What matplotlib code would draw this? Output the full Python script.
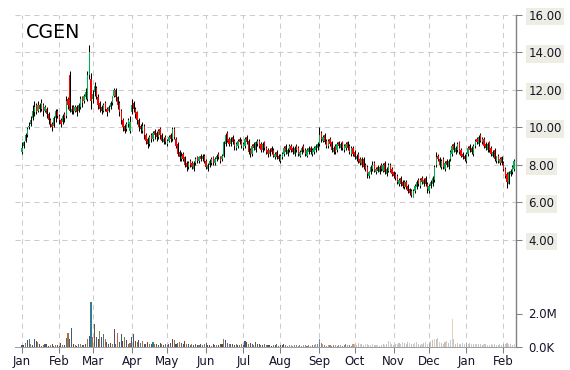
import matplotlib
matplotlib.use("Agg")
import matplotlib.pyplot as plt
import numpy as np

# daily OHLC, Jan .. early Feb of the next year (one value per trading day)
opens = [
    8.7, 9.0, 9.3, 9.6, 10.0, 10.2, 10.5, 10.8, 11.2, 10.9,
    11.2, 11.0, 11.2, 10.9, 11.0, 10.7, 10.4, 10.2, 10.1, 10.5,
    10.9, 10.6, 10.4, 10.3, 10.7, 10.6, 11.5, 12.8, 10.8, 11.1,
    10.9, 11.1, 10.9, 11.1, 11.6, 11.4, 11.6, 11.5, 12.8, 12.6,
    11.5, 11.9, 12.1, 11.6, 11.3, 11.1, 10.9, 11.3, 11.0, 10.9,
    11.1, 11.3, 11.7, 12.0, 11.6, 11.3, 10.9, 10.4, 10.1, 9.9,
    10.2, 9.8, 10.8, 11.3, 11.0, 10.8, 10.4, 10.1, 9.8, 10.1,
    9.6, 9.4, 9.1, 9.6, 9.4, 9.8, 9.7, 9.5, 9.9, 9.6,
    9.2, 9.5, 9.1, 9.3, 9.6, 9.4, 9.9, 9.4, 9.1, 8.7,
    8.3, 8.6, 8.4, 8.1, 7.9, 8.2, 8.1, 7.8, 8.1, 8.4,
    8.2, 8.5, 8.3, 8.5, 8.2, 7.8, 8.0, 8.1, 8.4, 8.1,
    8.3, 8.6, 8.4, 8.3, 8.5, 9.1, 9.7, 9.4, 9.1, 9.5,
    9.3, 8.9, 9.0, 9.4, 9.3, 8.9, 9.0, 9.5, 9.3, 8.8,
    8.6, 9.1, 8.8, 9.1, 9.3, 9.1, 8.8, 9.2, 8.9, 8.8,
    8.6, 8.9, 8.8, 8.4, 8.7, 8.5, 8.2, 8.4, 8.6, 9.0,
    8.6, 8.8, 9.0, 8.9, 8.6, 9.0, 8.9, 8.5, 8.7, 9.0,
    8.8, 8.5, 8.7, 8.9, 8.6, 8.7, 8.8, 8.9, 9.1, 9.7,
    9.3, 9.6, 9.3, 9.0, 9.4, 9.2, 8.7, 9.0, 8.8, 9.2,
    8.9, 9.2, 8.8, 8.9, 9.2, 9.0, 8.6, 8.9, 8.7, 8.3,
    8.6, 8.3, 8.0, 8.3, 8.0, 7.9, 7.4, 7.6, 7.8, 8.1,
    7.6, 7.9, 7.6, 8.0, 7.7, 8.1, 7.5, 7.7, 8.0, 7.8,
    7.6, 7.5, 7.4, 7.0, 7.3, 7.1, 6.8, 7.1, 6.9, 6.7,
    6.6, 6.3, 6.6, 6.8, 7.2, 6.9, 7.3, 7.0, 7.3, 7.0,
    6.6, 6.9, 7.0, 7.2, 8.0, 8.5, 8.3, 7.9, 8.3, 7.8,
    8.2, 7.9, 8.3, 8.6, 9.1, 8.7, 8.8, 9.2, 8.8, 8.6,
    8.5, 8.2, 8.6, 9.0, 8.9, 8.6, 9.0, 9.4, 9.1, 9.6,
    9.2, 9.4, 9.1, 8.8, 9.2, 8.9, 8.5, 8.8, 8.2, 8.5,
    8.1, 8.4, 8.1, 7.8, 7.5, 7.0, 7.5, 7.6, 7.8,
]
highs = [
    9.2, 9.3, 9.7, 10.0, 10.3, 10.6, 11.2, 11.4, 11.3, 11.4,
    11.3, 11.5, 11.3, 11.2, 11.1, 10.8, 10.5, 10.3, 10.6, 11.0,
    11.0, 10.7, 10.5, 10.7, 10.8, 11.7, 11.6, 13.0, 11.2, 11.2,
    11.2, 11.2, 11.3, 11.7, 11.7, 11.8, 12.1, 13.0, 14.4, 12.9,
    12.0, 12.4, 12.2, 11.8, 11.4, 11.2, 11.3, 11.4, 11.1, 11.2,
    11.4, 11.7, 12.1, 12.1, 11.7, 11.4, 11.0, 10.5, 10.2, 10.3,
    10.5, 10.6, 11.5, 11.4, 11.1, 10.9, 10.5, 10.2, 10.3, 10.2,
    9.7, 9.5, 9.6, 9.7, 9.8, 9.9, 9.8, 9.9, 10.0, 9.7,
    9.5, 9.6, 9.4, 9.6, 9.7, 10.0, 10.0, 9.5, 9.2, 8.8,
    8.7, 8.7, 8.5, 8.2, 8.2, 8.3, 8.2, 8.2, 8.4, 8.5,
    8.5, 8.6, 8.6, 8.6, 8.3, 8.1, 8.3, 8.4, 8.5, 8.4,
    8.6, 8.7, 8.5, 8.6, 9.3, 9.7, 9.8, 9.5, 9.5, 9.6,
    9.4, 9.2, 9.4, 9.5, 9.4, 9.2, 9.5, 9.6, 9.4, 8.9,
    9.1, 9.2, 9.3, 9.4, 9.4, 9.2, 9.2, 9.3, 9.0, 8.9,
    8.9, 9.0, 8.9, 8.7, 8.8, 8.6, 8.6, 8.7, 9.0, 9.1,
    8.9, 9.1, 9.1, 9.0, 9.0, 9.1, 9.0, 8.8, 9.0, 9.1,
    8.9, 8.9, 9.0, 9.0, 8.9, 9.0, 9.1, 9.2, 10.0, 9.8,
    9.6, 9.7, 9.4, 9.4, 9.5, 9.3, 9.0, 9.1, 9.2, 9.3,
    9.2, 9.3, 9.1, 9.2, 9.3, 9.1, 9.0, 9.0, 8.8, 8.6,
    8.7, 8.4, 8.4, 8.4, 8.1, 8.0, 7.7, 8.0, 8.2, 8.2,
    7.9, 8.0, 8.0, 8.1, 8.1, 8.2, 7.9, 8.1, 8.1, 7.9,
    7.7, 7.6, 7.5, 7.3, 7.4, 7.2, 7.2, 7.2, 7.0, 6.8,
    6.7, 6.7, 7.0, 7.2, 7.3, 7.3, 7.4, 7.3, 7.4, 7.1,
    7.0, 7.2, 7.4, 8.0, 8.7, 8.6, 8.4, 8.3, 8.4, 8.2,
    8.3, 8.3, 8.8, 9.1, 9.2, 9.0, 9.2, 9.3, 8.9, 8.7,
    8.6, 8.7, 9.0, 9.1, 9.0, 9.1, 9.4, 9.5, 9.6, 9.7,
    9.5, 9.5, 9.2, 9.2, 9.3, 9.0, 8.8, 8.9, 8.5, 8.6,
    8.4, 8.5, 8.2, 7.9, 7.6, 7.7, 7.8, 8.0, 8.3,
]
lows = [
    8.6, 8.9, 9.2, 9.5, 9.9, 10.1, 10.4, 10.6, 10.7, 10.8,
    10.8, 10.9, 10.6, 10.8, 10.5, 10.2, 10.0, 9.8, 10.0, 10.3,
    10.5, 10.2, 10.0, 10.2, 10.3, 10.5, 11.0, 10.8, 10.7, 10.7,
    10.8, 10.6, 10.8, 11.0, 11.1, 11.3, 11.5, 11.4, 12.6, 11.0,
    11.3, 11.7, 11.5, 11.0, 10.8, 10.7, 10.8, 10.9, 10.6, 10.8,
    11.0, 11.2, 11.6, 11.4, 11.0, 10.6, 10.2, 9.8, 9.7, 9.8,
    10.0, 9.7, 10.7, 10.8, 10.5, 10.2, 9.8, 9.7, 9.7, 9.4,
    9.1, 8.9, 9.0, 9.2, 9.3, 9.4, 9.3, 9.4, 9.4, 9.2,
    9.1, 9.1, 9.0, 9.2, 9.2, 9.3, 9.4, 8.9, 8.5, 8.2,
    8.2, 8.2, 7.9, 7.7, 7.8, 7.9, 7.8, 7.7, 8.0, 8.1,
    8.1, 8.2, 8.2, 8.1, 7.8, 7.7, 7.9, 8.0, 8.0, 8.0,
    8.2, 8.3, 8.1, 8.2, 8.4, 9.0, 9.2, 9.0, 9.0, 9.1,
    8.8, 8.8, 8.9, 9.1, 8.9, 8.8, 8.9, 9.1, 8.6, 8.4,
    8.5, 8.8, 8.7, 9.0, 8.9, 8.7, 8.7, 8.8, 8.6, 8.4,
    8.5, 8.6, 8.4, 8.3, 8.3, 8.2, 8.1, 8.3, 8.5, 8.6,
    8.5, 8.7, 8.7, 8.6, 8.5, 8.7, 8.5, 8.4, 8.6, 8.7,
    8.5, 8.4, 8.6, 8.6, 8.5, 8.6, 8.7, 8.8, 9.0, 9.2,
    9.2, 9.1, 8.9, 8.9, 9.0, 8.7, 8.6, 8.6, 8.7, 8.9,
    8.8, 8.8, 8.7, 8.8, 8.8, 8.6, 8.5, 8.5, 8.3, 8.2,
    8.1, 8.0, 7.9, 7.8, 7.7, 7.3, 7.3, 7.5, 7.7, 7.6,
    7.5, 7.6, 7.5, 7.7, 7.6, 7.5, 7.4, 7.6, 7.6, 7.4,
    7.3, 7.2, 7.0, 6.9, 6.9, 6.8, 6.7, 6.7, 6.5, 6.4,
    6.3, 6.3, 6.5, 6.7, 6.9, 6.8, 7.0, 6.9, 6.9, 6.5,
    6.5, 6.8, 6.9, 7.1, 7.9, 8.2, 7.9, 7.8, 7.8, 7.7,
    7.9, 7.8, 8.2, 8.5, 8.7, 8.6, 8.7, 8.6, 8.4, 8.3,
    8.2, 8.1, 8.5, 8.7, 8.6, 8.5, 8.9, 9.1, 9.0, 9.2,
    9.1, 8.9, 8.8, 8.7, 8.7, 8.5, 8.4, 8.2, 8.1, 8.1,
    8.0, 8.0, 7.7, 7.3, 6.8, 7.0, 7.4, 7.5, 7.7,
]
closes = [
    8.9, 9.2, 9.6, 9.9, 10.1, 10.4, 10.9, 11.1, 10.8, 11.2,
    11.0, 11.3, 10.9, 11.1, 10.7, 10.4, 10.2, 10.0, 10.5, 10.9,
    10.6, 10.4, 10.2, 10.6, 10.5, 11.4, 11.2, 10.9, 11.0, 10.9,
    11.1, 10.8, 11.2, 11.5, 11.3, 11.7, 11.9, 12.8, 14.0, 11.4,
    11.8, 12.2, 11.7, 11.2, 11.0, 10.9, 11.2, 11.0, 10.8, 11.1,
    11.3, 11.6, 12.0, 11.6, 11.2, 10.8, 10.4, 10.0, 9.8, 10.2,
    10.4, 10.3, 11.2, 11.0, 10.7, 10.4, 10.0, 9.9, 10.1, 9.6,
    9.3, 9.1, 9.5, 9.4, 9.7, 9.6, 9.5, 9.8, 9.6, 9.3,
    9.4, 9.2, 9.3, 9.5, 9.4, 9.9, 9.5, 9.0, 8.6, 8.4,
    8.5, 8.3, 8.0, 7.9, 8.1, 8.0, 7.9, 8.1, 8.3, 8.2,
    8.4, 8.3, 8.5, 8.2, 7.9, 8.0, 8.2, 8.3, 8.1, 8.3,
    8.5, 8.4, 8.2, 8.5, 9.2, 9.6, 9.3, 9.1, 9.4, 9.2,
    9.0, 9.1, 9.3, 9.2, 9.0, 9.1, 9.4, 9.2, 8.7, 8.6,
    9.0, 8.9, 9.2, 9.3, 9.0, 8.8, 9.1, 8.9, 8.7, 8.6,
    8.8, 8.7, 8.5, 8.6, 8.4, 8.3, 8.5, 8.6, 8.9, 8.7,
    8.8, 9.0, 8.8, 8.7, 8.9, 8.8, 8.6, 8.7, 8.9, 8.8,
    8.6, 8.8, 8.9, 8.7, 8.8, 8.9, 9.0, 9.1, 9.6, 9.4,
    9.5, 9.2, 9.0, 9.3, 9.1, 8.8, 8.9, 8.7, 9.1, 9.0,
    9.1, 8.9, 9.0, 9.1, 8.9, 8.7, 8.9, 8.6, 8.4, 8.5,
    8.2, 8.1, 8.3, 7.9, 7.8, 7.5, 7.6, 7.9, 8.0, 7.7,
    7.8, 7.7, 7.9, 7.8, 8.0, 7.6, 7.8, 8.0, 7.7, 7.5,
    7.4, 7.3, 7.1, 7.2, 7.0, 6.9, 7.1, 6.8, 6.6, 6.5,
    6.4, 6.6, 6.9, 7.1, 7.0, 7.2, 7.1, 7.2, 7.0, 6.7,
    6.9, 7.1, 7.3, 7.9, 8.4, 8.3, 8.0, 8.2, 7.9, 8.1,
    8.0, 8.2, 8.7, 9.0, 8.8, 8.9, 9.1, 8.7, 8.5, 8.4,
    8.3, 8.6, 8.9, 8.8, 8.7, 9.0, 9.3, 9.2, 9.5, 9.3,
    9.4, 9.0, 8.9, 9.1, 8.8, 8.6, 8.7, 8.3, 8.4, 8.2,
    8.3, 8.1, 7.8, 7.4, 7.1, 7.6, 7.7, 7.9, 8.2,
]
# volume in millions of shares
volumes = [
    0.14, 0.10, 0.26, 0.40, 0.47, 0.20, 0.12, 0.50, 0.35, 0.30,
    0.20, 0.08, 0.10, 0.16, 0.16, 0.06, 0.10, 0.20, 0.08, 0.14,
    0.10, 0.08, 0.26, 0.14, 0.14, 0.55, 0.82, 0.50, 1.16, 0.16,
    0.10, 0.08, 0.16, 0.16, 0.14, 0.10, 0.20, 0.45, 0.67, 2.70,
    0.60, 1.37, 0.60, 0.45, 0.96, 0.60, 0.75, 0.50, 0.30, 0.18,
    0.25, 0.20, 1.06, 0.20, 0.82, 0.30, 0.75, 0.35, 0.60, 0.40,
    0.20, 0.25, 0.60, 0.75, 0.35, 0.30, 0.40, 0.25, 0.35, 0.20,
    0.15, 0.30, 0.20, 0.18, 0.30, 0.15, 0.20, 0.12, 0.25, 0.15,
    0.12, 0.20, 0.10, 0.15, 0.25, 0.45, 0.40, 0.20, 0.25, 0.30,
    0.25, 0.20, 0.35, 0.15, 0.20, 0.12, 0.18, 0.10, 0.15, 0.12,
    0.10, 0.15, 0.12, 0.18, 0.25, 0.10, 0.12, 0.08, 0.15, 0.10,
    0.12, 0.10, 0.15, 0.20, 0.45, 0.40, 0.25, 0.20, 0.15, 0.18,
    0.12, 0.15, 0.10, 0.12, 0.18, 0.10, 0.35, 0.30, 0.20, 0.25,
    0.15, 0.12, 0.30, 0.20, 0.18, 0.12, 0.10, 0.15, 0.10, 0.12,
    0.10, 0.08, 0.12, 0.10, 0.15, 0.08, 0.10, 0.12, 0.15, 0.10,
    0.08, 0.12, 0.10, 0.08, 0.10, 0.12, 0.08, 0.10, 0.08, 0.12,
    0.10, 0.08, 0.10, 0.08, 0.12, 0.10, 0.15, 0.20, 0.45, 0.25,
    0.15, 0.10, 0.08, 0.12, 0.10, 0.08, 0.10, 0.12, 0.08, 0.10,
    0.12, 0.08, 0.10, 0.15, 0.10, 0.12, 0.08, 0.15, 0.20, 0.12,
    0.25, 0.15, 0.20, 0.12, 0.15, 0.20, 0.10, 0.12, 0.15, 0.10,
    0.12, 0.10, 0.08, 0.12, 0.15, 0.10, 0.20, 0.35, 0.30, 0.15,
    0.12, 0.20, 0.15, 0.25, 0.20, 0.30, 0.25, 0.20, 0.30, 0.25,
    0.20, 0.15, 0.25, 0.30, 0.15, 0.12, 0.20, 0.25, 0.30, 0.20,
    0.25, 0.35, 0.40, 0.50, 0.45, 0.55, 0.30, 0.25, 0.20, 0.30,
    0.35, 0.25, 0.40, 1.67, 0.45, 0.20, 0.25, 0.20, 0.15, 0.25,
    0.20, 0.25, 0.20, 0.25, 0.15, 0.20, 0.18, 0.15, 0.20, 0.15,
    0.12, 0.15, 0.20, 0.12, 0.10, 0.15, 0.12, 0.15, 0.10, 0.12,
    0.15, 0.10, 0.18, 0.20, 0.25, 0.15, 0.20, 0.12, 0.18,
]
# first trading day of each month (index into the arrays above)
month_starts = [0, 21, 40, 62, 82, 104, 125, 146, 168, 188, 210, 230, 251, 272]
month_labels = ["Jan", "Feb", "Mar", "Apr", "May", "Jun", "Jul", "Aug",
                "Sep", "Oct", "Nov", "Dec", "Jan", "Feb"]
price_ticks = [4, 6, 8, 10, 12, 14, 16]
vol_ticks = [0, 2]
vol_labels = ["0.0K", "2.0M"]

n = min(len(opens), len(highs), len(lows), len(closes), len(volumes))
x = np.arange(n)
o = np.array(opens[:n])
h = np.array(highs[:n])
l = np.array(lows[:n])
c = np.array(closes[:n])
v = np.array(volumes[:n])

W, H = 570, 370
fig = plt.figure(figsize=(W / 100, H / 100), dpi=100)

left, right, top, bot = 15, 516, 15, 347
ax = fig.add_axes([left / W, (H - bot) / H, (right - left) / W, (bot - top) / H])
axv = fig.add_axes([left / W, (H - bot) / H, (right - left) / W, (bot - 280) / H])
axv.patch.set_alpha(0)

grid_col = "#cccccc"
txt_col = "#14142a"
px_per_day = 1.77
x0 = -(22 - left) / px_per_day
x1 = (right - 22) / px_per_day
ax.set_xlim(x0, x1)
axv.set_xlim(x0, x1)
ax.set_ylim(4 - (bot - 240) / 18.75, 16)
axv.set_ylim(0, 4.0)

# candles
ax.vlines(x, l, h, color="black", lw=0.75, zorder=3)
up = c >= o
ax.bar(x[up], (c - o)[up], bottom=o[up], width=0.7, color="#00b050", lw=0, zorder=4)
ax.bar(x[~up], (o - c)[~up], bottom=c[~up], width=0.7, color="#ff0000", lw=0, zorder=4)

# volume bars
palette = ["#385d8a", "#8c3836", "#71893f", "#5c4776", "#357d91", "#b66d31", "#595959"]
vcols = [palette[i % len(palette)] for i in range(n)]
alphas = [1.0 if i < 150 else (0.7 if i < 188 else 0.35) for i in range(n)]
for i in range(n):
    axv.bar(x[i], v[i], width=0.6, color=vcols[i], alpha=alphas[i], lw=0)

# grid + ticks
ax.set_xticks(month_starts)
ax.set_xticklabels(month_labels)
ax.set_yticks(price_ticks)
ax.set_yticklabels(["%.2f" % t for t in price_ticks])
ax.grid(True, color=grid_col, lw=0.75, linestyle=(0, (5, 4)))
ax.set_axisbelow(True)
ax.yaxis.tick_right()
ax.tick_params(axis="y", direction="out", length=4, width=0.75, color="#808080",
               labelsize=8.5, labelcolor=txt_col, pad=5)
ax.tick_params(axis="x", direction="out", length=4, width=0.75, color="#808080",
               labelsize=8.5, labelcolor=txt_col, pad=2)
for lbl in ax.get_yticklabels():
    lbl.set_bbox(dict(facecolor="#eeede4", edgecolor="none", pad=1.5))
for side in ["left", "top"]:
    ax.spines[side].set_visible(False)
ax.spines["right"].set_color("#808080")
ax.spines["right"].set_linewidth(1)
ax.spines["bottom"].set_color("#a0a0a0")
ax.spines["bottom"].set_linewidth(0.75)

axv.set_xticks([])
axv.set_yticks(vol_ticks)
axv.set_yticklabels(vol_labels)
axv.yaxis.tick_right()
axv.tick_params(axis="y", direction="out", length=4, width=0.75, color="#808080",
                labelsize=8.5, labelcolor=txt_col, pad=5)
for side in axv.spines:
    axv.spines[side].set_visible(False)

fig.text(26 / W, 1 - 32 / H, "CGEN", fontsize=13.7, color="black",
         va="center", ha="left")

fig.savefig("out.png", dpi=100)
